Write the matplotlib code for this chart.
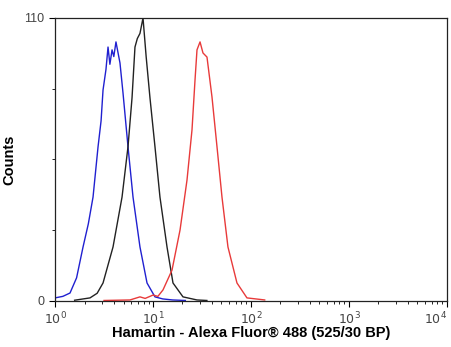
import matplotlib
matplotlib.use('Agg')
import matplotlib.pyplot as plt
import numpy as np
from matplotlib.ticker import LogLocator, FixedLocator, NullFormatter

plt.rcParams['font.family'] = ['Liberation Sans', 'DejaVu Sans']

# log10 of fluorescence intensity, counts
blue_logx = [0.0, 0.08, 0.153, 0.22, 0.286, 0.34, 0.388, 0.439, 0.47, 0.49, 0.52, 0.541,
             0.56, 0.582, 0.60, 0.622, 0.663, 0.694, 0.745, 0.796, 0.867, 0.939,
             1.02, 1.1, 1.2, 1.33]
blue_counts = [1.2, 1.8, 3.1, 9, 21, 30, 40.4, 59.9, 70, 82, 90, 98.7,
               92, 97.6, 95, 100.7, 92.5, 80.8, 59.9, 40.4, 21, 7,
               1.6, 0.8, 0.4, 0.2]

black_logx = [0.2, 0.357, 0.43, 0.49, 0.592, 0.684, 0.745, 0.786, 0.816, 0.84,
              0.867, 0.898, 0.93, 0.969, 1.02, 1.071, 1.143, 1.204, 1.306,
              1.449, 1.55]
black_counts = [0.3, 1.2, 3, 7, 21, 40.4, 60, 79, 98.7, 102,
                104, 110, 95, 79, 60, 40.4, 21, 7, 1.6,
                0.4, 0.2]

red_logx = [0.5, 0.765, 0.867, 0.92, 1.0, 1.05, 1.102, 1.194, 1.276, 1.347,
            1.398, 1.429, 1.449, 1.48, 1.51, 1.551, 1.602, 1.653, 1.704,
            1.765, 1.857, 1.959, 2.05, 2.14]
red_counts = [0.2, 0.4, 1.6, 1.0, 2.3, 1.8, 4.3, 12, 27.6, 47,
              66.5, 86, 97.6, 100.7, 96.4, 94.8, 79.3, 60, 40.4,
              21, 7, 1.2, 0.8, 0.4]

x_ticks = [1, 10, 100, 1000, 10000]
x_ticklabels = ['$10^0$', '$10^1$', '$10^2$', '$10^3$', '$10^4$']

fig = plt.figure(figsize=(4.51, 3.47), dpi=100)
ax = fig.add_axes([0.122, 0.1326, 0.869, 0.8156])

ax.plot(10 ** np.array(blue_logx), blue_counts, color='#2020d0', lw=1.0)
ax.plot(10 ** np.array(black_logx), black_counts, color='#222222', lw=1.0)
ax.plot(10 ** np.array(red_logx), red_counts, color='#e83a3a', lw=1.0)

ax.set_xscale('log')
ax.set_xlim(1, 1e4)
ax.set_ylim(0, 110)

ax.set_xticks(x_ticks, labels=x_ticklabels)
ax.xaxis.set_minor_locator(LogLocator(base=10, subs=np.arange(2, 10), numticks=10))
ax.xaxis.set_minor_formatter(NullFormatter())
ax.set_yticks([0, 110])
ax.yaxis.set_minor_locator(FixedLocator([27.5, 55, 82.5]))

ax.tick_params(axis='both', which='major', labelsize=9, labelcolor='#444444',
               length=4, width=0.8, direction='out')
ax.tick_params(axis='x', which='major', pad=3)
ax.tick_params(axis='both', which='minor', length=2.5, width=0.6, direction='out')
for s in ax.spines.values():
    s.set_linewidth(0.9)
    s.set_color('#222222')

ax.get_xticklabels()[-1].set_horizontalalignment('right')

ax.set_ylabel('Counts', fontsize=10.5, fontweight='bold', labelpad=6)
ax.set_xlabel('Hamartin - Alexa Fluor\u00ae 488 (525/30 BP)', fontsize=10.5,
              fontweight='bold', labelpad=-1)

fig.savefig('out.png', dpi=100)
